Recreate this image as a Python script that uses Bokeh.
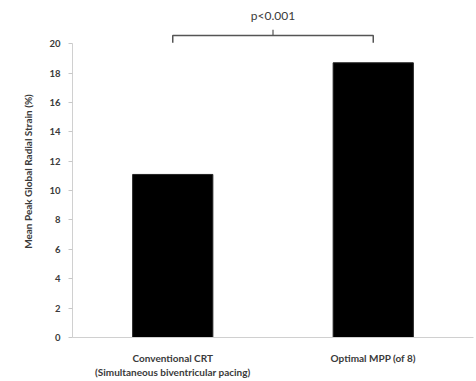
from bokeh.plotting import figure
from bokeh.models import FactorRange, Range1d, ColumnDataSource
from bokeh.embed import file_html
from bokeh.resources import INLINE
from bokeh.core.properties import value

# Mean peak global radial strain (%) for each pacing mode
categories = ["Conventional CRT\n(Simultaneous biventricular pacing)", "Optimal MPP (of 8)"]
strain = [11.1, 18.7]
y_ticks = [0, 2, 4, 6, 8, 10, 12, 14, 16, 18, 20]
y_title = "Mean Peak Global Radial Strain (%)"
p_text = "p<0.001"

FONT = "Lato"
TXT = "#3a3a3a"

p = figure(width=476, height=381, output_backend="svg", toolbar_location=None,
           x_range=FactorRange(*categories, range_padding=0), y_range=Range1d(0, 22.6),
           min_border_left=72, min_border_right=3, min_border_top=5, min_border_bottom=44)
p.outline_line_color = None
p.xgrid.grid_line_color = None
p.ygrid.grid_line_color = None

src = ColumnDataSource(dict(cat=categories, val=strain))
p.vbar(x="cat", top="val", width=0.4, source=src, fill_color="black", line_color="#222222")

# y axis
p.yaxis.bounds = (0, 20)
p.yaxis.ticker = y_ticks
p.yaxis.axis_line_color = "#d0d0d0"
p.yaxis.major_tick_line_color = "#c8c8c8"
p.yaxis.major_tick_out = 4
p.yaxis.major_tick_in = 0
p.yaxis.minor_tick_line_color = None
p.yaxis.major_label_text_font = FONT
p.yaxis.major_label_text_font_style = "bold"
p.yaxis.major_label_text_font_size = "9.5px"
p.yaxis.major_label_text_color = TXT
p.yaxis.major_label_standoff = 8
p.yaxis.axis_label = y_title
p.yaxis.axis_label_text_font = FONT
p.yaxis.axis_label_text_font_style = "bold"
p.yaxis.axis_label_text_font_size = "10px"
p.yaxis.axis_label_text_color = TXT
p.yaxis.axis_label_standoff = 12

# x axis
p.xaxis.axis_line_color = "#d0d0d0"
p.xaxis.major_tick_line_color = None
p.xaxis.major_label_text_font = FONT
p.xaxis.major_label_text_font_style = "bold"
p.xaxis.major_label_text_font_size = "10px"
p.xaxis.major_label_text_color = TXT
p.xaxis.major_label_standoff = 8

# significance bracket between the two bars
p.line(x=[categories[0], categories[0], categories[1], categories[1]],
       y=[20.07, 20.55, 20.55, 20.07], line_color="#555555", line_width=1.5)
p.line(x=[1.0, 1.0], y=[20.55, 20.95], line_color="#555555", line_width=1.2)
p.text(x=[1.0], y=[21.9], text=[p_text], text_align="center", text_baseline="middle",
       text_font=value(FONT), text_font_size="12px", text_color=TXT)

open("out.html", "w").write(file_html(p, INLINE))
